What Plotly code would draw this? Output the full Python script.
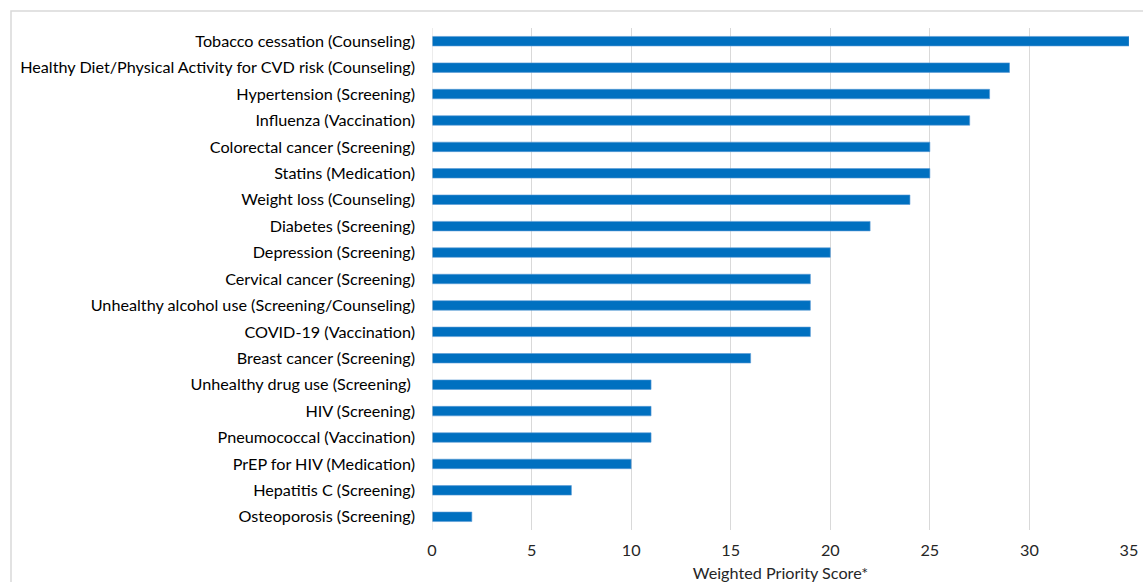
import plotly.graph_objects as go

categories = [
    "Tobacco cessation (Counseling)",
    "Healthy Diet/Physical Activity for CVD risk (Counseling)",
    "Hypertension (Screening)",
    "Influenza (Vaccination)",
    "Colorectal cancer (Screening)",
    "Statins (Medication)",
    "Weight loss (Counseling)",
    "Diabetes (Screening)",
    "Depression (Screening)",
    "Cervical cancer (Screening)",
    "Unhealthy alcohol use (Screening/Counseling)",
    "COVID-19 (Vaccination)",
    "Breast cancer (Screening)",
    "Unhealthy drug use (Screening) ",
    "HIV (Screening)",
    "Pneumococcal (Vaccination)",
    "PrEP for HIV (Medication)",
    "Hepatitis C (Screening)",
    "Osteoporosis (Screening)",
]
scores = [35, 29, 28, 27, 25, 25, 24, 22, 20, 19, 19, 19, 16, 11, 11, 11, 10, 7, 2]
x_ticks = [0, 5, 10, 15, 20, 25, 30, 35]
x_title = "Weighted Priority Score*"

W, H = 1143, 582
L, R, T, B = 432, 14, 28, 52
pw, ph = W - L - R, H - T - B

fig = go.Figure(go.Bar(
    x=scores, y=categories, orientation="h",
    marker=dict(color="#0070C0", line=dict(color="#5B9BD5", width=0.6)),
    width=0.36,
))

font = "Lato, Carlito, Calibri, sans-serif"
fig.update_layout(
    width=W, height=H,
    margin=dict(l=L, r=R, t=T, b=B, pad=0, autoexpand=False),
    paper_bgcolor="white", plot_bgcolor="white",
    showlegend=False,
    font=dict(family=font, size=16.2, color="#000000"),
    xaxis=dict(
        range=[0, 35], tickvals=x_ticks, ticktext=[str(v) for v in x_ticks],
        showgrid=True, gridcolor="#d9d9d9", gridwidth=1,
        zeroline=False, showline=False, ticks="",
        ticklabelstandoff=9,
        tickfont=dict(size=16.2, color="#262626"),
        title=dict(text=x_title, font=dict(size=16.2, color="#262626"), standoff=12),
        automargin=False,
        fixedrange=True,
    ),
    yaxis=dict(
        categoryorder="array", categoryarray=categories[::-1],
        autorange=False, range=[-0.5, len(categories) - 0.5],
        showgrid=False, zeroline=False, showline=False, ticks="",
        ticklabelstandoff=16,
        tickfont=dict(size=16.2, color="#000000"),
        automargin=False,
        fixedrange=True,
    ),
    shapes=[
        dict(type="line", xref="x", yref="paper", x0=0, x1=0, y0=0, y1=1,
             line=dict(color="#d9d9d9", width=1)),
        dict(type="rect", xref="paper", yref="paper",
             x0=(11 - L) / pw, x1=(W + 20 - L) / pw,
             y0=-(H + 20 - T - ph) / ph, y1=1 + (T - 11) / ph,
             line=dict(color="#d9d9d9", width=1.5), fillcolor="rgba(0,0,0,0)",
             layer="below"),
    ],
)

fig.write_html("out.html")
